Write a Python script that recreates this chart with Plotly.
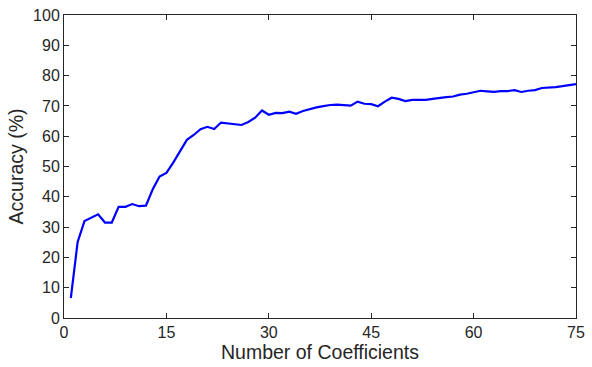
import plotly.graph_objects as go

num_coeffs = list(range(1, 76))
accuracy = [
    6.6, 25.1, 32.0, 33.1, 34.2, 31.5, 31.5, 36.7, 36.7, 37.6,
    36.9, 37.1, 42.5, 46.7, 47.9, 51.3, 54.9, 58.8, 60.4, 62.3,
    63.1, 62.4, 64.5, 64.2, 64.1, 63.7, 64.7, 66.1, 68.5, 67.1,
    67.7, 67.6, 68.1, 67.4, 68.3, 69.0, 69.5, 69.9, 70.3, 70.4,
    70.2, 70.1, 71.4, 70.7, 70.6, 69.9, 71.4, 72.7, 72.3, 71.6,
    72.0, 72.0, 72.0, 72.3, 72.7, 72.9, 73.1, 73.7, 74.0, 74.4,
    75.0, 74.8, 74.6, 74.9, 74.9, 75.2, 74.6, 75.0, 75.2, 75.9,
    76.0, 76.2, 76.5, 76.8, 77.2,
]
x_ticks = [0, 15, 30, 45, 60, 75]
y_ticks = list(range(0, 101, 10))

FONT = "Liberation Sans, Arial, Helvetica, sans-serif"

fig = go.Figure()
fig.add_trace(go.Scatter(
    x=num_coeffs, y=accuracy, mode="lines",
    line=dict(color="#0000FF", width=2.2),
    showlegend=False,
))

axis_common = dict(
    showline=True, linecolor="#262626", linewidth=1, mirror="ticks",
    ticks="inside", ticklen=5, tickcolor="#262626", tickwidth=1,
    showgrid=False, zeroline=False,
    ticklabeloverflow="allow",
    tickfont=dict(family=FONT, size=16, color="#262626"),
)

fig.update_layout(
    width=592, height=367,
    margin=dict(l=64, r=15, t=7, b=49),
    paper_bgcolor="white", plot_bgcolor="white",
    xaxis=dict(
        range=[0, 75], tickvals=x_ticks,
        title=dict(text="Number of Coefficients", standoff=0,
                   font=dict(family=FONT, size=19.5, color="#262626")),
        **axis_common,
    ),
    yaxis=dict(
        range=[0, 100], tickvals=y_ticks,
        title=dict(text="Accuracy (%)", standoff=4,
                   font=dict(family=FONT, size=19.5, color="#262626")),
        **axis_common,
    ),
)

fig.write_html("out.html")
